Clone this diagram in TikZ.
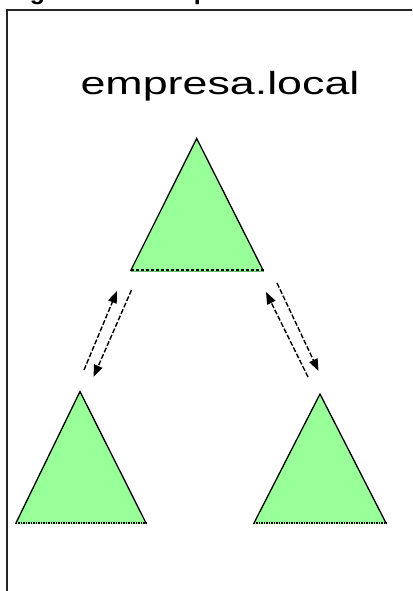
\documentclass[tikz,border=0pt]{standalone}
\usepackage{fontspec}
\setmainfont{Liberation Sans}
\usetikzlibrary{arrows.meta}
\definecolor{leafgreen}{HTML}{99FF99}
\definecolor{edgegreen}{HTML}{66BB66}
\tikzset{
  dombody/.style={fill=leafgreen},
  domside/.style={draw=black, line width=1.3pt, line join=miter},
  basedash/.style={draw=black, line width=1.8pt, dash pattern=on 3.5pt off 1.5pt},
  basedot/.style={draw=black, line width=1.8pt, dash pattern=on 1.5pt off 1pt},
  trust/.style={draw=black, line width=1.4pt, dash pattern=on 5pt off 2pt,
    -{Triangle[length=12pt,width=9pt]}},
  frameline/.style={draw=black!85, line width=1.6pt}
}
\begin{document}
\begin{tikzpicture}[x=1pt,y=-1pt]
\useasboundingbox (0,0) rectangle (412,591);
\begin{scope}
\clip (0,0) rectangle (412,591);
% clipped caption
\node[anchor=base west, inner sep=0pt, font=\bfseries\fontsize{25}{30}\selectfont] (caption) at (7.5,-0.8) {Figura 1 - Exemplo de árvore};
% frame
\draw[frameline] (6.8,600) -- (6.8,10) -- (420,10);
% title
\node[anchor=base, inner sep=0pt, xscale=1.4, transform shape, font=\fontsize{32}{36}\selectfont] (title) at (220,95) {empresa.local};
% top domain
\coordinate (ta) at (196.7,138.5);
\coordinate (tl) at (130.5,271);
\coordinate (tr) at (263.5,271);
\fill[dombody] (ta) -- (tl) -- (tr) -- cycle;
\draw[edgegreen, line width=1.2pt] ([yshift=-0.8pt]tl) -- ([yshift=-0.8pt]tr);
\draw[domside] (tl) -- (ta) -- (tr);
\draw[basedash] ([yshift=1.2pt]tl) -- ([yshift=1.2pt]tr);
% left domain
\coordinate (la) at (80,391.5);
\coordinate (ll) at (15.5,524);
\coordinate (lr) at (146.5,524);
\fill[dombody] (la) -- (ll) -- (lr) -- cycle;
\draw[domside] (ll) -- (la) -- (lr);
\draw[basedot] ([yshift=1pt]ll) -- ([yshift=1pt]lr);
% right domain
\coordinate (ra) at (320,394);
\coordinate (rl) at (253.5,524);
\coordinate (rr) at (386.5,524);
\fill[dombody] (ra) -- (rl) -- (rr) -- cycle;
\draw[domside] (rl) -- (ra) -- (rr);
\draw[basedot] ([yshift=1pt]rl) -- ([yshift=1pt]rr);
% trust arrows left
\coordinate (l1s) at (84,370);
\coordinate (l1e) at (117,291);
\coordinate (l2s) at (131.5,290);
\coordinate (l2e) at (93.5,377);
\draw[trust] (l1s) -- (l1e);
\draw[trust] (l2s) -- (l2e);
% trust arrows right
\coordinate (r1s) at (277,283);
\coordinate (r1e) at (318.5,371);
\coordinate (r2s) at (308,377);
\coordinate (r2e) at (266,292);
\draw[trust] (r1s) -- (r1e);
\draw[trust] (r2s) -- (r2e);
\end{scope}
\end{tikzpicture}
\end{document}
